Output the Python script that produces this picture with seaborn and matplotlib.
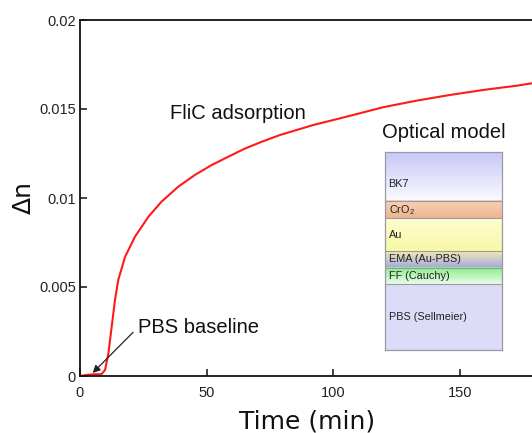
import numpy as np
import pandas as pd
import matplotlib
matplotlib.use("Agg")
import matplotlib.pyplot as plt
import seaborn as sns

# FliC adsorption curve
time_min = [0, 3, 6, 8.0, 8.6, 9.9, 11.2, 12.5, 13.8, 15.1, 17.8, 21.7, 27.0, 32.2,
            38.8, 45.4, 51.9, 58.5, 65.1, 71.7, 78.9, 92.0, 105.2, 119.6, 132.8,
            146.0, 159.1, 172.3, 179.0]
delta_n = [0.0, 0.00007, 0.0001, 0.0001, 0.00012, 0.00034, 0.00127, 0.00277, 0.00427,
           0.0054, 0.0067, 0.00783, 0.00895, 0.0098, 0.01064, 0.0113, 0.01185,
           0.01232, 0.01278, 0.01316, 0.01354, 0.01410, 0.01457, 0.0151, 0.01547,
           0.01579, 0.01607, 0.01631, 0.01646]

xticks = [0, 50, 100, 150]
yticks = [0, 0.005, 0.01, 0.015, 0.02]
ytick_labels = ["0", "0.005", "0.01", "0.015", "0.02"]

# optical model layers (top to bottom)
layer_names = ["BK7", r"CrO$_2$", "Au", "EMA (Au-PBS)", "FF (Cauchy)", "PBS (Sellmeier)"]
layer_thick = [49.3, 17.3, 32.7, 16.7, 16.6, 65.7]
layer_top = ["#c6c6f7", "#f7d2b6", "#fefed0", "#efebb0", "#88ee88", "#dcdcf8"]
layer_bot = ["#fbfbff", "#ebb592", "#f8f8a6", "#a6a6e2", "#eafcea", "#dcdcf8"]
label_frac = [0.65, 0.5, 0.5, 0.5, 0.5, 0.5]

sns.set_style("ticks")
plt.rcParams["font.family"] = ["Liberation Sans", "DejaVu Sans"]
plt.rcParams["mathtext.fontset"] = "custom"
plt.rcParams["mathtext.rm"] = "Liberation Sans"
plt.rcParams["mathtext.it"] = "Liberation Sans:italic"

fig = plt.figure(figsize=(5.32, 4.33), dpi=100)
ax = fig.add_axes([80 / 532, 57 / 433, 454 / 532, 356 / 433])

df = pd.DataFrame({"t": time_min, "dn": delta_n})
sns.lineplot(data=df, x="t", y="dn", ax=ax, color="#ff1a1a", lw=1.5)

ax.set_xlim(0, 179.1)
ax.set_ylim(0, 0.02)
ax.set_xticks(xticks)
ax.set_yticks(yticks)
ax.set_yticklabels(ytick_labels)
ax.tick_params(direction="in", length=5, width=1.2, labelsize=10.5, colors="#222222")
ax.tick_params(axis="x", pad=7)
ax.tick_params(axis="y", pad=3)
for s in ["left", "bottom", "top"]:
    ax.spines[s].set_linewidth(1.3)
    ax.spines[s].set_color("#111111")
ax.spines["right"].set_visible(False)

ax.set_xlabel("Time (min)", fontsize=18, family="DejaVu Sans", labelpad=7, color="#111111")
ax.set_ylabel("Δn", fontsize=18, family="DejaVu Sans", labelpad=2, color="#111111")

ax.text(35.5, 0.01475, "FliC adsorption", fontsize=14.5, va="center", color="#111111")
ax.annotate("PBS baseline", xy=(5.0, 0.00017), xytext=(23.0, 0.00275),
            fontsize=14.5, va="center", color="#111111",
            arrowprops=dict(arrowstyle="-|>", color="#222222", lw=0.9,
                            mutation_scale=11, shrinkA=2, shrinkB=0, relpos=(0, 0.5)))
fig.text(444 / 532, 1 - 133 / 433, "Optical model", fontsize=14.5,
         ha="center", va="center", color="#111111")

# inset with the layer stack
ins = fig.add_axes([385 / 532, 83 / 433, 117 / 532, 198.3 / 433])
total = sum(layer_thick)
y0 = 0
for name, th, ct, cb, lf in zip(layer_names, layer_thick, layer_top, layer_bot, label_frac):
    c1 = np.array(matplotlib.colors.to_rgb(ct))
    c2 = np.array(matplotlib.colors.to_rgb(cb))
    grad = np.linspace(0, 1, 50)[:, None, None] * (c2 - c1) + c1
    ins.imshow(grad, extent=(0, 1, y0 + th, y0), aspect="auto", interpolation="bilinear")
    ins.axhline(y0 + th, color="#9a9aa4", lw=0.8)
    ins.text(0.03, y0 + th * lf, name, fontsize=7.8, va="center", color="#222222")
    y0 += th
ins.set_xlim(0, 1)
ins.set_ylim(total, 0)
ins.set_xticks([])
ins.set_yticks([])
for s in ins.spines.values():
    s.set_color("#9a9aa4")
    s.set_linewidth(0.9)

fig.savefig("out.png", dpi=100)
